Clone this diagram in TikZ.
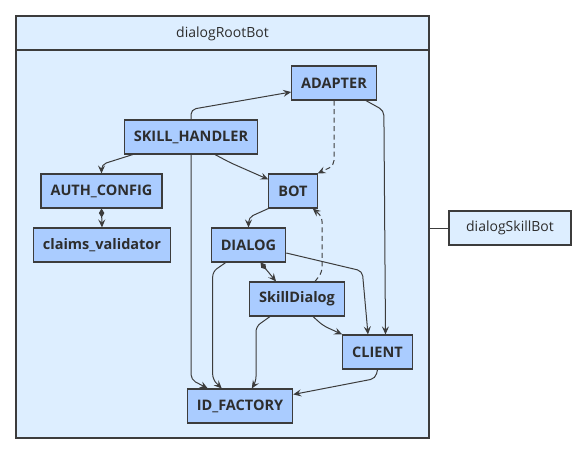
\documentclass[tikz,border=0pt]{standalone}
\usepackage{fontspec}
\setmainfont{Open Sans}
\usetikzlibrary{arrows.meta}
\definecolor{botfill}{RGB}{221,238,255}
\definecolor{compfill}{RGB}{170,204,255}
\definecolor{edgegray}{RGB}{60,60,60}
\definecolor{textgray}{RGB}{45,45,45}

\begin{document}
\begin{tikzpicture}[x=1pt, y=-1pt,
        comp/.style={draw=edgegray, fill=compfill, line width=1.1pt, minimum height=34pt, inner xsep=9.5pt,
            text=textgray, font=\bfseries\fontsize{14.5}{17}\selectfont},
        botbox/.style={draw=edgegray, fill=botfill, line width=1.1pt, text=textgray,
            font=\fontsize{14}{16}\selectfont},
        dep/.style={draw=edgegray, line width=1pt, rounded corners=5pt, -{Stealth[length=8pt, width=7pt, inset=3pt]}},
        owns/.style={dep, {Diamond[length=9pt, width=5.5pt]}-{Stealth[length=8pt, width=7pt, inset=3pt]}},
        uses/.style={dep, dash pattern=on 5pt off 3.5pt}]
    \useasboundingbox (0,0) rectangle (585,455);

    \draw[botbox] (16,16) rectangle (429,438);
    \draw[draw=edgegray, line width=1.1pt] (16,50) -- (429,50);
    \node[text=textgray, font=\fontsize{14}{16}\selectfont] (rootbot) at (222.5,34) {dialogRootBot};
    \node[botbox, minimum width=122pt, minimum height=34pt] (skillbot) at (510,228) {dialogSkillBot};
    \coordinate (rootside) at (429,228);
    \draw[edgegray, line width=1pt] (rootside) -- (skillbot.west);

    \node[comp] (adapter) at (334,83) {ADAPTER};
    \node[comp] (handler) at (191,137) {SKILL\_HANDLER};
    \node[comp] (auth) at (101.5,191) {AUTH\_CONFIG};
    \node[comp] (claims) at (102,245) {claims\_validator};
    \node[comp] (bot) at (293,191) {BOT};
    \node[comp] (dialog) at (248.5,245) {DIALOG};
    \node[comp] (skilldlg) at (297,299) {SkillDialog};
    \node[comp] (client) at (377.5,352) {CLIENT};
    \node[comp] (idfactory) at (240,406) {ID\_FACTORY};

    \draw[dep] (handler.north) -- ++(0,-10) -- ([yshift=-9pt]adapter.west);
    \draw[dep] ([xshift=9pt]handler.south west) -- ([yshift=9pt]auth.north) -- (auth.north);
    \draw[dep] ([xshift=24pt]handler.south) -- ++(15,8) -- ([yshift=-6pt]bot.north west);
    \draw[dep] (handler.south) -- ++(0,225) -- ([xshift=21pt]idfactory.north west);
    \draw[owns] (auth.south) -- (claims.north);
    \draw[uses] (adapter.south) -- ++(0,65) -- (bot.north east);
    \draw[dep] ([xshift=-11pt]adapter.south east) -- ++(18,10) -- ([xshift=8pt]client.north);
    \draw[dep] (bot.south west) -- ([yshift=10pt]dialog.north) -- (dialog.north);
    \draw[uses] ([xshift=18pt]skilldlg.north) -- ++(7,-9) -- ++(0,-56) -- ([xshift=-5pt]bot.south east);
    \draw[dep] ([yshift=-8pt]dialog.east) -- ++(76,18) -- ([xshift=-9.5pt]client.north);
    \draw[owns] ([xshift=12pt]dialog.south) -- ([xshift=27pt]skilldlg.north west);
    \draw[dep] ([xshift=15pt]dialog.south west) -- ++(-13,9) -- ++(0,108) -- ([xshift=35pt]idfactory.north west);
    \draw[dep] ([xshift=-27pt]skilldlg.south) -- ++(-14,10) -- ++(0,55) -- ([xshift=65pt]idfactory.north west);
    \draw[dep] ([xshift=16pt]skilldlg.south) -- ++(10,9) -- (client.north west);
    \draw[dep] (client.south) -- ++(-2,9) -- ([yshift=-6pt]idfactory.north east);
\end{tikzpicture}
\end{document}
